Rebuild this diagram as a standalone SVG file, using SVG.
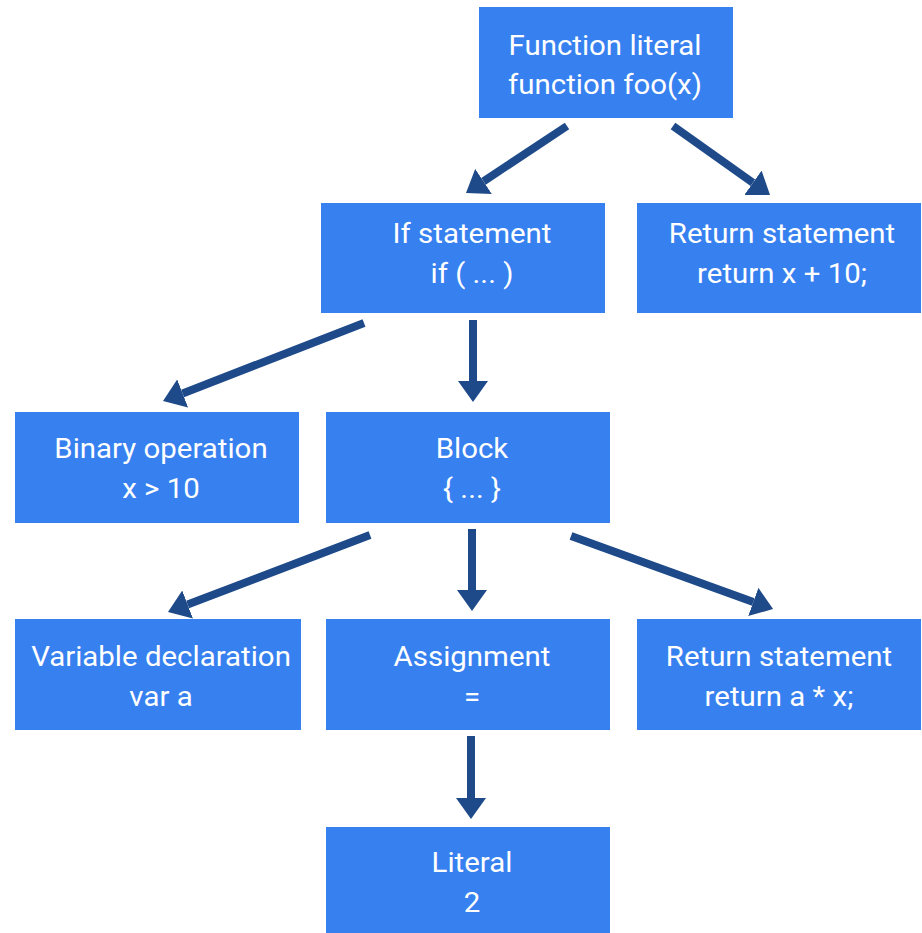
<svg xmlns="http://www.w3.org/2000/svg" width="922" height="933" viewBox="0 0 922 933">
<style>
.box{fill:#3780f0}
.t{font-family:Roboto,"Liberation Sans",sans-serif;font-size:27px;fill:#ffffff;text-anchor:middle}
.c{stroke:#1e4a8a;stroke-width:8;fill:none}
</style>
<defs>
<marker id="ah" markerUnits="userSpaceOnUse" viewBox="0 0 21 30" refX="0" refY="15" markerWidth="21" markerHeight="30" orient="auto">
<path d="M0,0 L21,15 L0,30 Z" fill="#1e4a8a"/>
</marker>
</defs>
<rect width="922" height="933" fill="#ffffff"/>
<g id="connectors">
<line class="c" x1="567" y1="126" x2="483.5" y2="181.4" marker-end="url(#ah)"/>
<line class="c" x1="673" y1="126" x2="752.9" y2="182.8" marker-end="url(#ah)"/>
<line class="c" x1="364" y1="323" x2="182.6" y2="393.4" marker-end="url(#ah)"/>
<line class="c" x1="473" y1="320" x2="473" y2="381" marker-end="url(#ah)"/>
<line class="c" x1="370" y1="535" x2="187.6" y2="604.5" marker-end="url(#ah)"/>
<line class="c" x1="472" y1="529" x2="472" y2="590" marker-end="url(#ah)"/>
<line class="c" x1="571" y1="536" x2="753.3" y2="601.9" marker-end="url(#ah)"/>
<line class="c" x1="471" y1="736" x2="471" y2="798" marker-end="url(#ah)"/>
</g>
<g id="function-literal">
<rect class="box" x="479" y="7" width="254" height="111"/>
<text class="t" transform="matrix(1.09 0 0 1 605 0)" x="0" y="55">Function literal</text>
<text class="t" transform="matrix(1.09 0 0 1 605 0)" x="0" y="94">function foo(x)</text>
</g>
<g id="if-statement">
<rect class="box" x="321" y="203" width="284" height="110"/>
<text class="t" transform="matrix(1.09 0 0 1 472 0)" x="0" y="243">If statement</text>
<text class="t" transform="matrix(1.09 0 0 1 472 0)" x="0" y="283">if ( ... )</text>
</g>
<g id="return-statement-1">
<rect class="box" x="637" y="203" width="284" height="110"/>
<text class="t" transform="matrix(1.09 0 0 1 782 0)" x="0" y="243">Return statement</text>
<text class="t" transform="matrix(1.09 0 0 1 782 0)" x="0" y="283">return x + 10;</text>
</g>
<g id="binary-operation">
<rect class="box" x="15" y="412" width="284" height="111"/>
<text class="t" transform="matrix(1.09 0 0 1 161 0)" x="0" y="458">Binary operation</text>
<text class="t" transform="matrix(1.09 0 0 1 161 0)" x="0" y="498">x &gt; 10</text>
</g>
<g id="block">
<rect class="box" x="326" y="412" width="284" height="111"/>
<text class="t" transform="matrix(1.09 0 0 1 472 0)" x="0" y="458">Block</text>
<text class="t" transform="matrix(1.09 0 0 1 472 0)" x="0" y="498">{ ... }</text>
</g>
<g id="variable-declaration">
<rect class="box" x="15" y="619" width="286" height="111"/>
<text class="t" transform="matrix(1.09 0 0 1 161 0)" x="0" y="666">Variable declaration</text>
<text class="t" transform="matrix(1.09 0 0 1 161 0)" x="0" y="706">var a</text>
</g>
<g id="assignment">
<rect class="box" x="326" y="619" width="284" height="111"/>
<text class="t" transform="matrix(1.09 0 0 1 472 0)" x="0" y="666">Assignment</text>
<text class="t" transform="matrix(1.09 0 0 1 472 0)" x="0" y="706">=</text>
</g>
<g id="return-statement-2">
<rect class="box" x="637" y="619" width="284" height="111"/>
<text class="t" transform="matrix(1.09 0 0 1 779 0)" x="0" y="666">Return statement</text>
<text class="t" transform="matrix(1.09 0 0 1 779 0)" x="0" y="706">return a * x;</text>
</g>
<g id="literal">
<rect class="box" x="326" y="827" width="284" height="106"/>
<text class="t" transform="matrix(1.09 0 0 1 472 0)" x="0" y="872">Literal</text>
<text class="t" transform="matrix(1.09 0 0 1 472 0)" x="0" y="912">2</text>
</g>
</svg>
